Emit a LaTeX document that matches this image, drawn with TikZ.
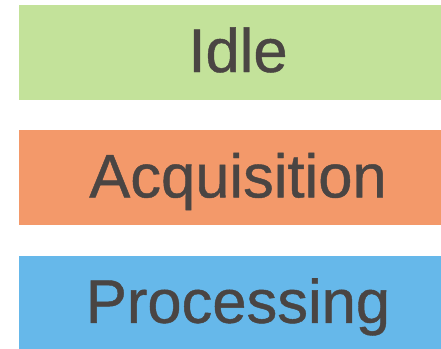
\documentclass[tikz,border=0pt]{standalone}
\usepackage{fontspec}
\setmainfont{Liberation Sans}
\newfontfamily\labelfont[FakeBold=0.7]{Liberation Sans}
\usetikzlibrary{positioning}

\definecolor{idlegreen}{RGB}{195,226,154}
\definecolor{acqorange}{RGB}{243,153,106}
\definecolor{procblue}{RGB}{102,184,234}
\definecolor{labelgray}{RGB}{74,69,67}

\begin{document}
\begin{tikzpicture}[
  x=1pt, y=-1pt,
  node distance = 30pt,
  statebox/.style = {minimum height=95pt, minimum width=438pt, inner sep=0pt,
    text height=44pt, text depth=5pt, align=center, text=labelgray,
    font=\labelfont\fontsize{61.5}{62}\selectfont}
]
\useasboundingbox (0,0) rectangle (441,348);
\node[statebox, fill=idlegreen] (idle) at (238,52.5) {Idle};
\node[statebox, fill=acqorange, below=of idle] (acq) {Acquisition};
\node[statebox, fill=procblue, below=of acq] (proc) {Processing};
\end{tikzpicture}
\end{document}
